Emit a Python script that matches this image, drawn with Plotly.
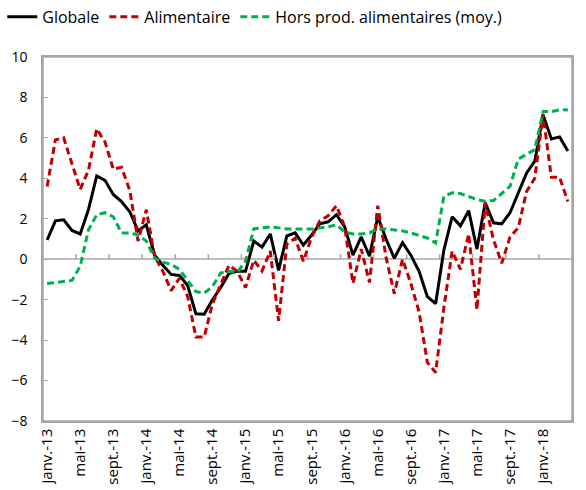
import plotly.graph_objects as go

# x-axis labels, one every four months (Jan 2013 - Apr 2018, monthly)
tick_labels = [
    "janv.-13", "mai-13", "sept.-13", "janv.-14", "mai-14", "sept.-14",
    "janv.-15", "mai-15", "sept.-15", "janv.-16", "mai-16", "sept.-16",
    "janv.-17", "mai-17", "sept.-17", "janv.-18",
]

globale = [
    0.95, 1.9, 1.95, 1.42, 1.25, 2.45, 4.12, 3.9, 3.2, 2.85,
    2.35, 1.4, 1.7, 0.2, -0.3, -0.75, -0.8, -1.3, -2.7, -2.72,
    -2.0, -1.4, -0.7, -0.6, -0.6, 0.9, 0.6, 1.25, -0.55, 1.15,
    1.3, 0.7, 1.2, 1.75, 1.85, 2.2, 1.6, 0.2, 1.1, 0.15,
    2.1, 1.0, 0.05, 0.82, 0.2, -0.6, -1.85, -2.2, 0.45, 2.1,
    1.65, 2.4, 0.5, 2.8, 1.8, 1.75, 2.3, 3.25, 4.25, 4.85,
    7.15, 5.95, 6.05, 5.35,
]

alimentaire = [
    3.6, 5.9, 6.0, 4.7, 3.45, 4.4, 6.45, 5.8, 4.45, 4.55,
    3.4, 0.9, 2.45, 0.15, -0.6, -1.55, -0.95, -1.85, -3.85, -3.85,
    -2.2, -1.25, -0.3, -0.6, -1.4, -0.05, -0.58, 0.4, -3.05, 0.74,
    1.04, -0.1, 1.1, 1.9, 2.15, 2.65, 1.6, -1.2, 0.5, -1.15,
    2.65, 0.1, -1.7, 0.0, -1.2, -2.6, -5.1, -5.6, -2.4, 0.4,
    -0.5, 1.25, -2.5, 2.77, 0.96, -0.2, 1.1, 1.55, 3.35, 4.0,
    7.15, 4.05, 4.05, 2.85,
]

hors_alim = [
    -1.2, -1.15, -1.1, -1.05, -0.35, 1.45, 2.2, 2.3, 2.1, 1.3,
    1.3, 1.2, 0.9, 0.05, -0.15, -0.25, -0.5, -1.05, -1.6, -1.68,
    -1.35, -0.68, -0.6, -0.65, -0.1, 1.5, 1.55, 1.6, 1.55, 1.5,
    1.5, 1.5, 1.5, 1.55, 1.6, 1.7, 1.35, 1.25, 1.25, 1.3,
    1.5, 1.5, 1.45, 1.4, 1.3, 1.17, 1.05, 0.8, 3.1, 3.28,
    3.25, 3.1, 2.95, 2.87, 2.9, 3.25, 3.6, 4.95, 5.2, 5.42,
    7.3, 7.3, 7.39, 7.38,
]

months = list(range(len(globale)))
label_pos = months[::4]
boundary_pos = [m - 0.5 for m in label_pos[1:]]
x_range = [-0.5, len(months) - 0.5]
y_range = [-8, 10]

W, H = 586, 490
MARGIN = dict(l=43, r=14, t=57, b=69)
plot_h = H - MARGIN["t"] - MARGIN["b"]
tick_len = (y_range[1] - y_range[0]) * 5 / plot_h  # ~5 px in data units

FONT = "Open Sans, Noto Sans, sans-serif"
AXIS_GREY = "#a6a6a6"
LEFT_GREY = "#a6a6a6"

fig = go.Figure()

fig.add_trace(go.Scatter(
    x=months, y=globale, mode="lines", name="Globale",
    line=dict(color="#000000", width=3),
))
fig.add_trace(go.Scatter(
    x=months, y=alimentaire, mode="lines", name="Alimentaire",
    line=dict(color="#c00000", width=3, dash="7px,4px"),
))
fig.add_trace(go.Scatter(
    x=months, y=hors_alim, mode="lines", name="Hors prod. alimentaires (moy.)",
    line=dict(color="#00b050", width=3, dash="7px,4px"),
))

# small tick marks standing on the zero line, between month categories
for b in boundary_pos:
    fig.add_shape(
        type="line", xref="x", yref="y",
        x0=b, x1=b, y0=0, y1=tick_len,
        line=dict(color=AXIS_GREY, width=1.5),
        layer="above",
    )

# plot-area frame
fig.add_shape(
    type="rect", xref="paper", yref="paper", x0=0, x1=1, y0=0, y1=1,
    line=dict(color=AXIS_GREY, width=1.5), layer="above",
)

fig.update_layout(
    width=W,
    height=H,
    margin=dict(**MARGIN, autoexpand=False),
    plot_bgcolor="rgba(0,0,0,0)",
    paper_bgcolor="white",
    font=dict(family=FONT, size=14, color="#000000"),
    showlegend=True,
    legend=dict(
        orientation="h",
        x=-0.077, y=1.11, xanchor="left", yanchor="middle",
        font=dict(size=16),
        itemwidth=30,
        tracegroupgap=0,
        bgcolor="rgba(0,0,0,0)",
    ),
    xaxis=dict(
        range=x_range,
        tickmode="array",
        tickvals=label_pos,
        ticktext=tick_labels,
        tickangle=-90,
        tickfont=dict(size=15),
        ticks="",
        showgrid=False,
        zeroline=False,
        showline=True,
        linecolor=AXIS_GREY,
        linewidth=1.5,
        mirror=True,
        automargin=False,
    ),
    yaxis=dict(
        range=y_range,
        dtick=2,
        ticks="inside",
        ticklen=5,
        tickwidth=1.3,
        tickcolor=LEFT_GREY,
        showgrid=False,
        zeroline=True,
        zerolinecolor="#bfbfbf",
        zerolinewidth=1.5,
        showline=True,
        linecolor=LEFT_GREY,
        linewidth=1.5,
        mirror=True,
        automargin=False,
        ticksuffix="   ",
    ),
)

fig.write_html(
    "out.html",
    config={"displayModeBar": False},
    post_script="document.body.style.margin='0px';",
)
